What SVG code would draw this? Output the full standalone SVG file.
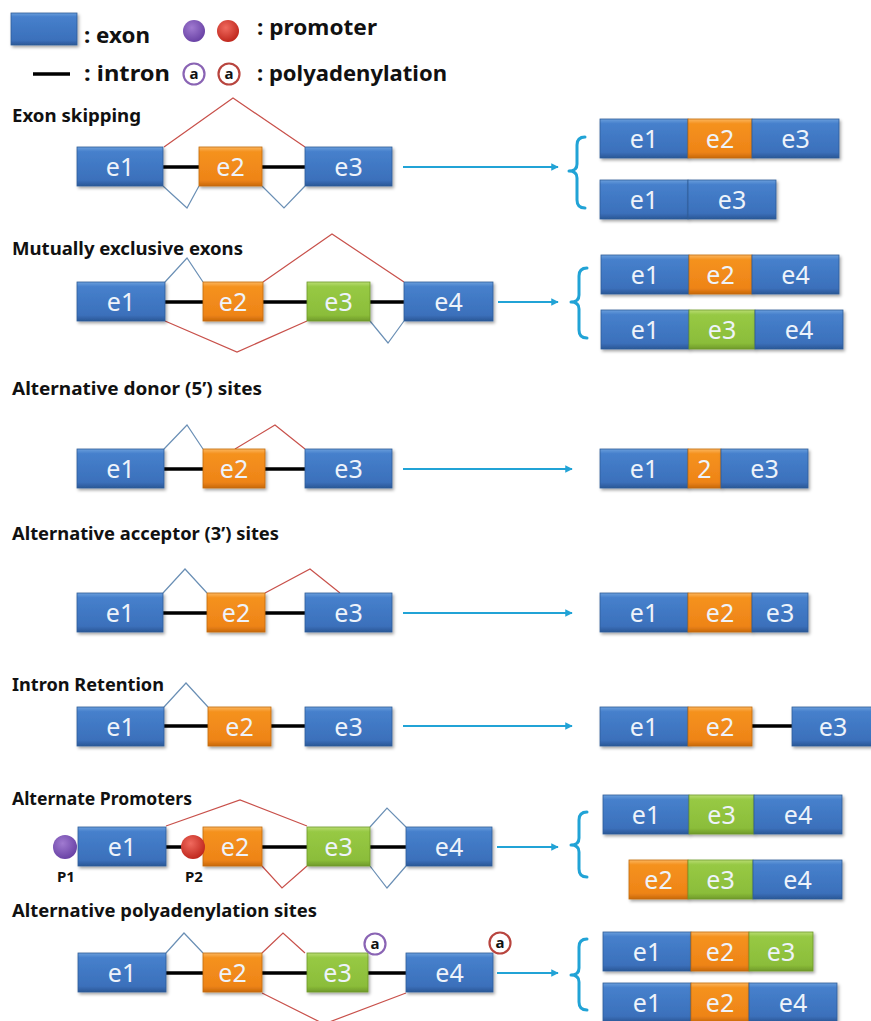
<svg xmlns="http://www.w3.org/2000/svg" width="871" height="1021" viewBox="0 0 871 1021">
<defs>
<linearGradient id="gb" x1="0" y1="0" x2="0" y2="1"><stop offset="0" stop-color="#6a9edc"/><stop offset="0.12" stop-color="#4680cc"/><stop offset="0.85" stop-color="#3b70bb"/><stop offset="1" stop-color="#2b5796"/></linearGradient>
<linearGradient id="go" x1="0" y1="0" x2="0" y2="1"><stop offset="0" stop-color="#fbb65e"/><stop offset="0.12" stop-color="#f5921f"/><stop offset="0.85" stop-color="#ee8417"/><stop offset="1" stop-color="#c9690c"/></linearGradient>
<linearGradient id="gg" x1="0" y1="0" x2="0" y2="1"><stop offset="0" stop-color="#b9dc73"/><stop offset="0.12" stop-color="#97c944"/><stop offset="0.85" stop-color="#8bbd3a"/><stop offset="1" stop-color="#6f9a2a"/></linearGradient>
<radialGradient id="gp" cx="0.4" cy="0.35" r="0.65"><stop offset="0" stop-color="#a07ad0"/><stop offset="1" stop-color="#6a43a6"/></radialGradient>
<radialGradient id="gr" cx="0.4" cy="0.35" r="0.65"><stop offset="0" stop-color="#f06a5e"/><stop offset="1" stop-color="#c0281e"/></radialGradient>
<filter id="sh" x="-10%" y="-10%" width="130%" height="140%"><feDropShadow dx="1.5" dy="2" stdDeviation="1.5" flood-color="#000" flood-opacity="0.35"/></filter>
<marker id="ah" viewBox="0 0 10 10" refX="9" refY="5" markerWidth="3.4" markerHeight="3.4" orient="auto" markerUnits="strokeWidth"><path d="M0,0 L10,5 L0,10 z" fill="#21a3d6"/></marker>
<style>
.b{fill:url(#gb);stroke:#2f5d98;stroke-width:0.8;filter:url(#sh)}
.o{fill:url(#go);stroke:#c26a10;stroke-width:0.8;filter:url(#sh)}
.g{fill:url(#gg);stroke:#6e9a2a;stroke-width:0.8;filter:url(#sh)}
.t{font-family:"Noto Sans","Open Sans",sans-serif;font-size:25px;fill:#eef3fa;text-anchor:middle}
.h{font-family:"Noto Sans","Open Sans",sans-serif;font-size:18px;font-weight:bold;fill:#111}
.lg{font-family:"Noto Sans","Open Sans",sans-serif;font-size:22px;font-weight:bold;fill:#111}
.in{stroke:#000;stroke-width:3.5}
.rd{fill:none;stroke:#c8504a;stroke-width:1.2}
.bl{fill:none;stroke:#6a8fb5;stroke-width:1.2}
.ar{stroke:#21a3d6;stroke-width:2.2;fill:none;marker-end:url(#ah)}
.br{stroke:#21a3d6;stroke-width:3;fill:none;stroke-linecap:round;stroke-linejoin:round}
.ring{fill:#fff;stroke-width:2.2}
.pa{font-family:"Noto Sans","Open Sans",sans-serif;font-size:15px;font-weight:bold;fill:#111;text-anchor:middle}
.pl{font-family:"Noto Sans","Open Sans",sans-serif;font-size:15px;font-weight:bold;fill:#111}
</style>
</defs>
<rect width="871" height="1021" fill="#fff"/>

<g id="legend">
<rect class="b" x="11" y="13" width="66" height="32"/>
<text class="lg" x="84" y="43" textLength="66" lengthAdjust="spacingAndGlyphs">: exon</text>
<circle cx="194" cy="31" r="11" fill="url(#gp)"/>
<circle cx="228" cy="31" r="11" fill="url(#gr)"/>
<text class="lg" x="257" y="35" textLength="120" lengthAdjust="spacingAndGlyphs">: promoter</text>
<line x1="33" y1="74" x2="70" y2="74" class="in"/>
<text class="lg" x="84" y="81" textLength="86" lengthAdjust="spacingAndGlyphs">: intron</text>
<circle class="ring" cx="194" cy="74" r="10.5" stroke="#8a64b4"/>
<text class="pa" x="194" y="79">a</text>
<circle class="ring" cx="229" cy="74" r="10.5" stroke="#b8443e"/>
<text class="pa" x="229" y="79">a</text>
<text class="lg" x="257" y="81" textLength="190" lengthAdjust="spacingAndGlyphs">: polyadenylation</text>
</g>

<g id="titles">
<text class="h" x="12" y="122" textLength="129" lengthAdjust="spacingAndGlyphs">Exon skipping</text>
<text class="h" x="12" y="255" textLength="231" lengthAdjust="spacingAndGlyphs">Mutually exclusive exons</text>
<text class="h" x="12" y="395" textLength="250" lengthAdjust="spacingAndGlyphs">Alternative donor (5’) sites</text>
<text class="h" x="12" y="540" textLength="267" lengthAdjust="spacingAndGlyphs">Alternative acceptor (3’) sites</text>
<text class="h" x="12" y="691" textLength="152" lengthAdjust="spacingAndGlyphs">Intron Retention</text>
<text class="h" x="12" y="805" textLength="180" lengthAdjust="spacingAndGlyphs">Alternate Promoters</text>
<text class="h" x="12" y="917" textLength="305" lengthAdjust="spacingAndGlyphs">Alternative polyadenylation sites</text>
</g>

<g id="connectors">
<line class="in" x1="163" y1="167" x2="305" y2="167"/>
<line class="in" x1="165" y1="302" x2="404" y2="302"/>
<line class="in" x1="164" y1="469" x2="305" y2="469"/>
<line class="in" x1="163" y1="613" x2="305" y2="613"/>
<line class="in" x1="164" y1="726" x2="305" y2="726"/>
<line class="in" x1="752" y1="726" x2="792" y2="726"/>
<line class="in" x1="166" y1="847" x2="406" y2="847"/>
<line class="in" x1="166" y1="973" x2="406" y2="973"/>
<path class="rd" d="M164,147 L233,98 L305,147"/>
<path class="bl" d="M163,186 L187,208 L199,186"/>
<path class="bl" d="M262,186 L284,208 L305,186"/>
<path class="bl" d="M165,282 L187,258 L203,282"/>
<path class="rd" d="M263,282 L332,234 L404,282"/>
<path class="rd" d="M165,321 L237,352 L307,321"/>
<path class="bl" d="M370,321 L388,343 L404,321"/>
<path class="bl" d="M164,449 L187,425 L203,449"/>
<path class="rd" d="M235,449 L275,425 L305,449"/>
<path class="bl" d="M163,593 L185,569 L207,593"/>
<path class="rd" d="M265,593 L310,569 L340,593"/>
<path class="bl" d="M164,707 L186,683 L208,707"/>
<path class="rd" d="M166,826 L240,800 L307,826"/>
<path class="bl" d="M370,827 L387,808 L406,827"/>
<path class="rd" d="M262,866 L282,888 L307,866"/>
<path class="bl" d="M370,866 L387,888 L406,866"/>
<path class="bl" d="M166,953 L184,933 L203,953"/>
<path class="rd" d="M262,953 L283,933 L305,953"/>
<path class="rd" d="M262,993 L324,1024 L406,993"/>
<line class="ar" x1="403" y1="167" x2="558" y2="167"/>
<line class="ar" x1="498" y1="302" x2="558" y2="302"/>
<line class="ar" x1="403" y1="469" x2="572" y2="469"/>
<line class="ar" x1="403" y1="613" x2="572" y2="613"/>
<line class="ar" x1="403" y1="726" x2="572" y2="726"/>
<line class="ar" x1="497" y1="847" x2="558" y2="847"/>
<line class="ar" x1="497" y1="973" x2="558" y2="973"/>
<path class="br" d="M585,137 Q577,137 577,145 V164 Q577,171 569,171 Q577,171 577,178 V200 Q577,208 585,208"/>
<path class="br" d="M587,268 Q579,268 579,276 V295 Q579,302 571,302 Q579,302 579,309 V330 Q579,338 587,338"/>
<path class="br" d="M587,812 Q579,812 579,820 V838 Q579,845 571,845 Q579,845 579,852 V869 Q579,877 587,877"/>
<path class="br" d="M587,939 Q579,939 579,947 V968 Q579,975 571,975 Q579,975 579,982 V1002 Q579,1010 587,1010"/>
</g>

<g id="r1-e1"><rect class="b" x="77" y="147" width="86" height="39"/><text class="t" x="120" y="176">e1</text></g>
<g id="r1-e2"><rect class="o" x="199" y="147" width="63" height="39"/><text class="t" x="230.5" y="176">e2</text></g>
<g id="r1-e3"><rect class="b" x="305" y="147" width="87" height="39"/><text class="t" x="348.5" y="176">e3</text></g>
<g id="r1-out1"><rect class="b" x="600" y="119" width="88" height="39"/><text class="t" x="644" y="148">e1</text><rect class="o" x="688" y="119" width="64" height="39"/><text class="t" x="720" y="148">e2</text><rect class="b" x="752" y="119" width="87" height="39"/><text class="t" x="795.5" y="148">e3</text></g>
<g id="r1-out2"><rect class="b" x="600" y="180" width="88" height="39"/><text class="t" x="644" y="209">e1</text><rect class="b" x="688" y="180" width="88" height="39"/><text class="t" x="732" y="209">e3</text></g>

<g id="r2-e1"><rect class="b" x="77" y="282" width="88" height="39"/><text class="t" x="121" y="311">e1</text></g>
<g id="r2-e2"><rect class="o" x="203" y="282" width="60" height="39"/><text class="t" x="233" y="311">e2</text></g>
<g id="r2-e3"><rect class="g" x="307" y="282" width="63" height="39"/><text class="t" x="338.5" y="311">e3</text></g>
<g id="r2-e4"><rect class="b" x="404" y="282" width="89" height="39"/><text class="t" x="448.5" y="311">e4</text></g>
<g id="r2-out1"><rect class="b" x="601" y="255" width="88" height="39"/><text class="t" x="645" y="284">e1</text><rect class="o" x="689" y="255" width="63" height="39"/><text class="t" x="720.5" y="284">e2</text><rect class="b" x="752" y="255" width="87" height="39"/><text class="t" x="795.5" y="284">e4</text></g>
<g id="r2-out2"><rect class="b" x="601" y="310" width="88" height="39"/><text class="t" x="645" y="339">e1</text><rect class="g" x="689" y="310" width="66" height="39"/><text class="t" x="722" y="339">e3</text><rect class="b" x="755" y="310" width="88" height="39"/><text class="t" x="799" y="339">e4</text></g>

<g id="r3-e1"><rect class="b" x="77" y="449" width="87" height="39"/><text class="t" x="120.5" y="478">e1</text></g>
<g id="r3-e2"><rect class="o" x="203" y="449" width="62" height="39"/><text class="t" x="234" y="478">e2</text></g>
<g id="r3-e3"><rect class="b" x="305" y="449" width="87" height="39"/><text class="t" x="348.5" y="478">e3</text></g>
<g id="r3-out"><rect class="b" x="600" y="449" width="88" height="39"/><text class="t" x="644" y="478">e1</text><rect class="o" x="688" y="449" width="33" height="39"/><text class="t" x="704.5" y="478">2</text><rect class="b" x="721" y="449" width="87" height="39"/><text class="t" x="764.5" y="478">e3</text></g>

<g id="r4-e1"><rect class="b" x="77" y="593" width="86" height="39"/><text class="t" x="120" y="622">e1</text></g>
<g id="r4-e2"><rect class="o" x="207" y="593" width="58" height="39"/><text class="t" x="236" y="622">e2</text></g>
<g id="r4-e3"><rect class="b" x="305" y="593" width="87" height="39"/><text class="t" x="348.5" y="622">e3</text></g>
<g id="r4-out"><rect class="b" x="600" y="593" width="88" height="39"/><text class="t" x="644" y="622">e1</text><rect class="o" x="688" y="593" width="64" height="39"/><text class="t" x="720" y="622">e2</text><rect class="b" x="752" y="593" width="56" height="39"/><text class="t" x="780" y="622">e3</text></g>

<g id="r5-e1"><rect class="b" x="77" y="707" width="87" height="39"/><text class="t" x="120.5" y="736">e1</text></g>
<g id="r5-e2"><rect class="o" x="208" y="707" width="63" height="39"/><text class="t" x="239.5" y="736">e2</text></g>
<g id="r5-e3"><rect class="b" x="305" y="707" width="87" height="39"/><text class="t" x="348.5" y="736">e3</text></g>
<g id="r5-out"><rect class="b" x="600" y="707" width="88" height="39"/><text class="t" x="644" y="736">e1</text><rect class="o" x="688" y="707" width="64" height="39"/><text class="t" x="720" y="736">e2</text><rect class="b" x="792" y="707" width="82" height="39"/><text class="t" x="833" y="736">e3</text></g>

<g id="r6-e1"><rect class="b" x="78" y="827" width="88" height="39"/><text class="t" x="122" y="856">e1</text></g>
<g id="r6-e2"><rect class="o" x="203" y="827" width="59" height="39"/><text class="t" x="235" y="856">e2</text></g>
<g id="r6-e3"><rect class="g" x="307" y="827" width="63" height="39"/><text class="t" x="338.5" y="856">e3</text></g>
<g id="r6-e4"><rect class="b" x="406" y="827" width="86" height="39"/><text class="t" x="449" y="856">e4</text></g>
<g id="r6-p1"><circle cx="65" cy="847" r="12" fill="url(#gp)"/><text class="pl" x="57" y="882">P1</text></g>
<g id="r6-p2"><circle cx="193" cy="847" r="12" fill="url(#gr)"/><text class="pl" x="185" y="882">P2</text></g>
<g id="r6-out1"><rect class="b" x="603" y="795" width="86" height="39"/><text class="t" x="646" y="824">e1</text><rect class="g" x="689" y="795" width="65" height="39"/><text class="t" x="721.5" y="824">e3</text><rect class="b" x="754" y="795" width="88" height="39"/><text class="t" x="798" y="824">e4</text></g>
<g id="r6-out2"><rect class="o" x="629" y="860" width="59" height="39"/><text class="t" x="658.5" y="889">e2</text><rect class="g" x="688" y="860" width="65" height="39"/><text class="t" x="720.5" y="889">e3</text><rect class="b" x="753" y="860" width="89" height="39"/><text class="t" x="797.5" y="889">e4</text></g>

<g id="r7-e1"><rect class="b" x="78" y="953" width="88" height="39"/><text class="t" x="122" y="982">e1</text></g>
<g id="r7-e2"><rect class="o" x="203" y="953" width="59" height="39"/><text class="t" x="232.5" y="982">e2</text></g>
<g id="r7-e3"><rect class="g" x="307" y="953" width="61" height="39"/><text class="t" x="337.5" y="982">e3</text></g>
<g id="r7-e4"><rect class="b" x="406" y="953" width="87" height="39"/><text class="t" x="449.5" y="982">e4</text></g>
<g id="r7-a1"><circle class="ring" cx="375" cy="944" r="10.5" stroke="#8a64b4"/><text class="pa" x="375" y="949">a</text></g>
<g id="r7-a2"><circle class="ring" cx="500" cy="943" r="10.5" stroke="#b8443e"/><text class="pa" x="500" y="948">a</text></g>
<g id="r7-out1"><rect class="b" x="603" y="932" width="88" height="39"/><text class="t" x="647" y="961">e1</text><rect class="o" x="691" y="932" width="58" height="39"/><text class="t" x="720" y="961">e2</text><rect class="g" x="749" y="932" width="64" height="39"/><text class="t" x="781" y="961">e3</text></g>
<g id="r7-out2"><rect class="b" x="603" y="983" width="88" height="39"/><text class="t" x="647" y="1012">e1</text><rect class="o" x="691" y="983" width="58" height="39"/><text class="t" x="720" y="1012">e2</text><rect class="b" x="749" y="983" width="88" height="39"/><text class="t" x="793" y="1012">e4</text></g>
</svg>
